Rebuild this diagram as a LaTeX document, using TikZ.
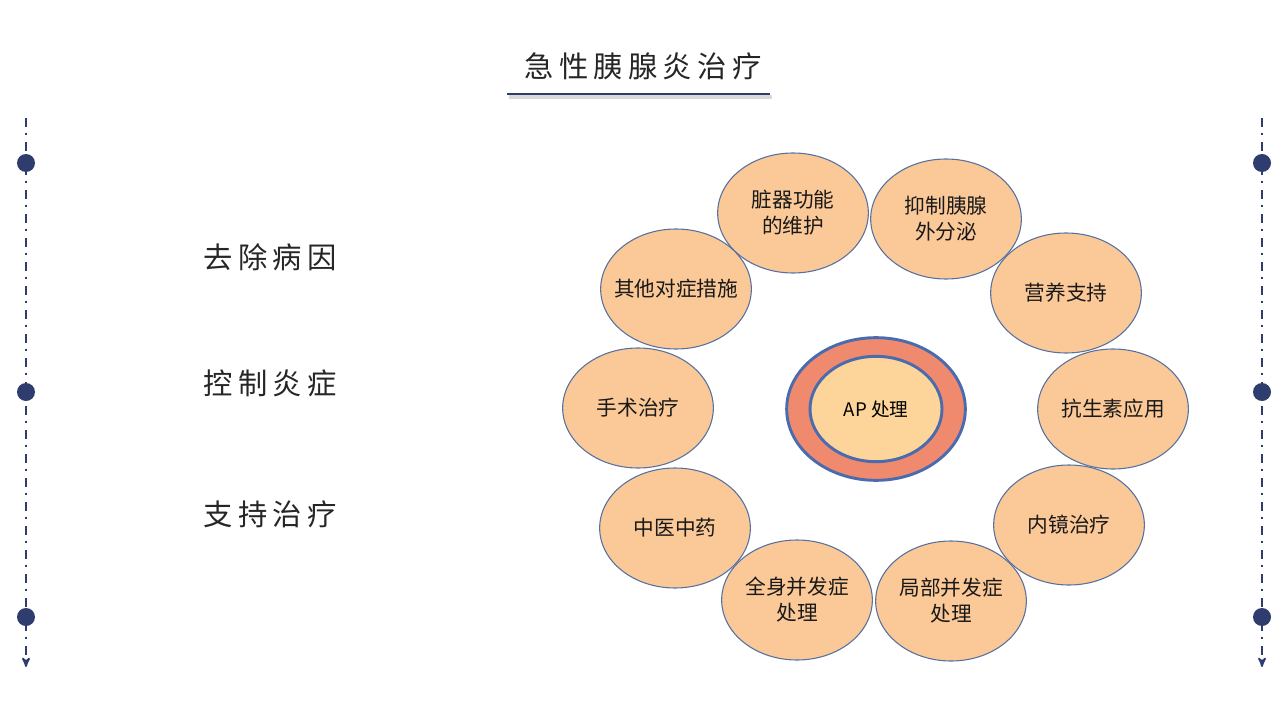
\documentclass[tikz,border=0pt]{standalone}
\usepackage{fontspec}
\setmainfont{Noto Sans CJK SC}
\usepackage{tikz}
\usetikzlibrary{shapes.geometric,calc,arrows}

\definecolor{navy}{HTML}{2F3D6E}
\definecolor{petal}{HTML}{FBC998}
\definecolor{petalline}{HTML}{5670A0}
\definecolor{ring}{HTML}{EF8A6F}
\definecolor{core}{HTML}{FDD59A}
\definecolor{ringline}{HTML}{4A6BAD}

\begin{document}
\begin{tikzpicture}[x=0.75pt,y=-0.75pt,>=stealth',
    petal/.style={ellipse,draw=petalline,fill=petal,line width=0.8pt,
                  minimum width=113pt,minimum height=90pt,inner xsep=-12pt,inner ysep=0pt,
                  align=center,text=black!90,font=\fontsize{15.5pt}{19.5pt}\selectfont},
    dot/.style={circle,fill=navy,draw=none,minimum size=13.5pt,inner sep=0pt},
    rail/.style={draw=navy,line width=1.4pt,dash pattern=on 6.5pt off 4.5pt on 1.5pt off 5.5pt},
    heading/.style={font=\fontsize{22pt}{26pt}\selectfont\addfontfeature{LetterSpace=18},text=black!85}]
  \useasboundingbox (0,0) rectangle (1280,720);

  % title
  \node[heading] (T) at (643,66) {急性胰腺炎治疗};
  \coordinate (ul) at (507,94);
  \coordinate (ur) at (770,94);
  \draw[black!15,line width=2.5pt] ($(ul)+(2,3)$) -- ($(ur)+(2,3)$);
  \draw[navy,line width=1.6pt] (ul) -- (ur);

  % side rails
  \coordinate (lt) at (26,118);
  \coordinate (lb) at (26,667);
  \coordinate (rt) at (1262,118);
  \coordinate (rb) at (1262,667);
  \draw[rail,->] (lt) -- (lb);
  \draw[rail,->] (rt) -- (rb);
  \node[dot] (l1) at (26,163) {};
  \node[dot] (l2) at (26,392) {};
  \node[dot] (l3) at (26,617) {};
  \node[dot] (r1) at (1262,163) {};
  \node[dot] (r2) at (1262,392) {};
  \node[dot] (r3) at (1262,617) {};

  % left labels
  \node[heading] (Q) at (270,257) {去除病因};
  \node[heading] (K) at (270,383) {控制炎症};
  \node[heading] (Z) at (270,514) {支持治疗};

  % centre
  \node[ellipse,draw=ringline,fill=ring,line width=2.2pt,
        minimum width=134pt,minimum height=107pt] (O) at (876,409) {};
  \node[ellipse,draw=ringline,fill=core,line width=2.2pt,
        minimum width=99pt,minimum height=79pt,
        font=\fontsize{14pt}{17pt}\selectfont] (AP) at (876,409) {AP 处理};

  % ring of measures
  \node[petal] (A) at (793,213) {脏器功能\\的维护};
  \node[petal] (B) at (946,219) {抑制胰腺\\外分泌};
  \node[petal] (C) at (1066,293) {营养支持};
  \node[petal] (D) at (1113,409) {抗生素应用};
  \node[petal] (E) at (1069,525) {内镜治疗};
  \node[petal] (F) at (951,601) {局部并发症\\处理};
  \node[petal] (G) at (797,600) {全身并发症\\处理};
  \node[petal] (H) at (675,528) {中医中药};
  \node[petal] (I) at (638,408) {手术治疗};
  \node[petal] (J) at (676,289) {其他对症措施};
\end{tikzpicture}
\end{document}
